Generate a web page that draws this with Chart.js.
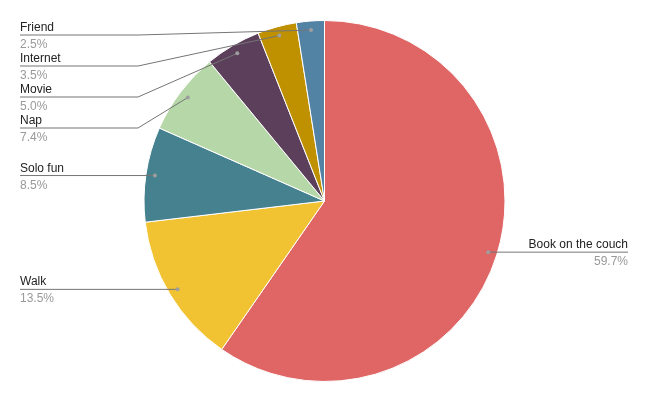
<!DOCTYPE html>
<html>
<head>
<meta charset="utf-8">
<script src="https://cdn.jsdelivr.net/npm/chart.js@4.4.1/dist/chart.umd.min.js"></script>
<style>
  html, body { margin: 0; padding: 0; background: #fff; }
  #wrap { width: 649px; height: 402px; }
</style>
</head>
<body>
<div id="wrap"><canvas id="pie"></canvas></div>
<script>
// Data
const labels = ['Book on the couch', 'Walk', 'Solo fun', 'Nap', 'Movie', 'Internet', 'Friend'];
const values = [59.7, 13.5, 8.5, 7.4, 5.0, 3.5, 2.5];
const colors = ['#e06666', '#f1c232', '#45818e', '#b6d7a8', '#5b3f5b', '#bf9000', '#5383a4'];

const FONT = '12px "Liberation Sans", Arial, sans-serif';

// Draws labels with leader lines, google-sheets style
const leaderLabels = {
    id: 'leaderLabels',
    afterDatasetsDraw(chart) {
        const ctx = chart.ctx;
        const meta = chart.getDatasetMeta(0);
        const left = [];
        const right = [];

        meta.data.forEach((arc, i) => {
            const mid = (arc.startAngle + arc.endAngle) / 2;
            const r = arc.outerRadius * 0.95;
            const x = arc.x + Math.cos(mid) * r;
            const y = arc.y + Math.sin(mid) * r;
            const item = { i, x, y, pct: values[i].toFixed(1) + '%' };
            if (x < arc.x) left.push(item); else right.push(item);
        });

        // stack left labels top to bottom
        left.sort((a, b) => a.y - b.y);
        let prev = 35 - 31;
        left.forEach(it => {
            it.ly = Math.max(it.y, prev + 31);
            prev = it.ly;
        });
        right.forEach(it => { it.ly = it.y; });

        ctx.save();
        ctx.lineWidth = 1;
        ctx.strokeStyle = '#757575';
        ctx.font = FONT;

        left.forEach(it => {
            ctx.beginPath();
            ctx.moveTo(20, it.ly);
            if (Math.abs(it.ly - it.y) > 0.5) {
                ctx.lineTo(138, it.ly);
            }
            ctx.lineTo(it.x, it.y);
            ctx.stroke();

            ctx.textAlign = 'left';
            ctx.fillStyle = '#222';
            ctx.fillText(labels[it.i], 20, it.ly - 4);
            ctx.fillStyle = '#999';
            ctx.fillText(it.pct, 20, it.ly + 13);
        });

        right.forEach(it => {
            ctx.beginPath();
            ctx.moveTo(it.x, it.y);
            ctx.lineTo(628, it.ly);
            ctx.stroke();

            ctx.textAlign = 'right';
            ctx.fillStyle = '#222';
            ctx.fillText(labels[it.i], 628, it.ly - 4);
            ctx.fillStyle = '#999';
            ctx.fillText(it.pct, 628, it.ly + 13);
        });

        // dots
        ctx.fillStyle = '#9e9e9e';
        meta.data.forEach((arc) => {
            const mid = (arc.startAngle + arc.endAngle) / 2;
            const r = arc.outerRadius * 0.95;
            ctx.beginPath();
            ctx.arc(arc.x + Math.cos(mid) * r, arc.y + Math.sin(mid) * r, 2, 0, Math.PI * 2);
            ctx.fill();
        });
        ctx.restore();
    }
};

new Chart(document.getElementById('pie'), {
    type: 'pie',
    data: {
        labels: labels,
        datasets: [{
            data: values,
            backgroundColor: colors,
            borderColor: '#ffffff',
            borderWidth: 1
        }]
    },
    options: {
        responsive: true,
        maintainAspectRatio: false,
        animation: false,
        layout: { padding: 20 },
        plugins: {
            legend: { display: false },
            tooltip: { enabled: false }
        }
    },
    plugins: [leaderLabels]
});
</script>
</body>
</html>
